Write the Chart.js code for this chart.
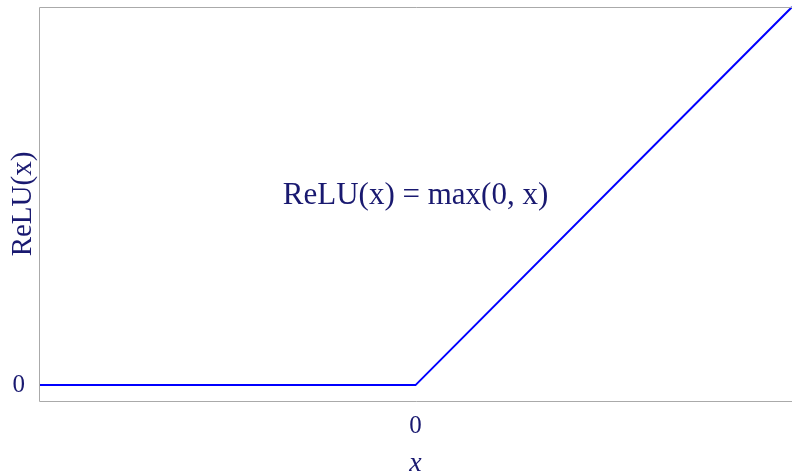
<!DOCTYPE html>
<html>
<head>
<meta charset="utf-8">
<script src="https://cdn.jsdelivr.net/npm/chart.js@4"></script>
<style>
  html, body { margin: 0; padding: 0; background: #fff; overflow: hidden; }
  #wrap { width: 792px; height: 474px; }
</style>
</head>
<body>
<div id="wrap"><canvas id="relu"></canvas></div>
<script>
// ReLU sample points (x, relu(x))
const xs = [-1, 0, 1];
const ys = [0, 0, 1];
const xTicks = [0];
const yTicks = [0];
const formulaText = 'ReLU(x) = max(0, x)';
const formulaAt = [0, 0.5];

const ink = '#191970';
const frame = '#aaaaaa';
const serif = "'Liberation Serif', 'DejaVu Serif', serif";

// frame round the plot area + the formula in the middle
const framePlugin = {
  id: 'framePlugin',
  afterDraw(chart) {
    const { ctx, chartArea: a, scales } = chart;
    ctx.save();
    ctx.strokeStyle = frame;
    ctx.lineWidth = 1;
    ctx.beginPath();
    ctx.moveTo(a.left + 0.5, a.bottom + 0.5);
    ctx.lineTo(a.left + 0.5, a.top + 0.5);
    ctx.lineTo(a.right + 2, a.top + 0.5);
    ctx.moveTo(a.left + 0.5, a.bottom + 0.5);
    ctx.lineTo(a.right + 2, a.bottom + 0.5);
    ctx.stroke();

    const px = scales.x.getPixelForValue(formulaAt[0]);
    const py = scales.y.getPixelForValue(formulaAt[1]);
    ctx.fillStyle = ink;
    ctx.font = '31px ' + serif;
    ctx.textAlign = 'center';
    ctx.textBaseline = 'middle';
    ctx.fillText(formulaText, px, py);
    ctx.restore();
  }
};

new Chart(document.getElementById('relu'), {
  type: 'line',
  data: {
    datasets: [{
      data: xs.map((x, i) => ({ x, y: ys[i] })),
      borderColor: '#0000ff',
      borderWidth: 2,
      pointRadius: 0,
      tension: 0,
      clip: false
    }]
  },
  options: {
    responsive: true,
    maintainAspectRatio: false,
    animation: false,
    layout: { padding: { top: 7, right: 0, left: 0, bottom: 0 } },
    plugins: { legend: { display: false }, tooltip: { enabled: false } },
    scales: {
      x: {
        type: 'linear',
        min: -1,
        max: 1,
        grid: { display: false },
        border: { display: false },
        afterBuildTicks: s => { s.ticks = xTicks.map(v => ({ value: v })); },
        afterFit: s => { s.height = 73; s.paddingLeft = 0; s.paddingRight = 0; },
        ticks: { color: ink, padding: 2, font: { family: serif, size: 25 } },
        title: {
          display: true, text: 'x', color: ink,
          font: { family: serif, size: 28, style: 'italic' },
          padding: { top: 6, bottom: -6 }
        }
      },
      y: {
        type: 'linear',
        min: -0.042,
        max: 1,
        grid: { display: false },
        border: { display: false },
        afterBuildTicks: s => { s.ticks = yTicks.map(v => ({ value: v })); },
        afterFit: s => { s.width = 39; s.paddingTop = 0; s.paddingBottom = 0; },
        ticks: { color: ink, padding: 6, font: { family: serif, size: 25 } },
        title: {
          display: true, text: 'ReLU(x)', color: ink,
          font: { family: serif, size: 29 },
          padding: { top: 6, bottom: 0 }
        }
      }
    }
  },
  plugins: [framePlugin]
});
</script>
</body>
</html>
